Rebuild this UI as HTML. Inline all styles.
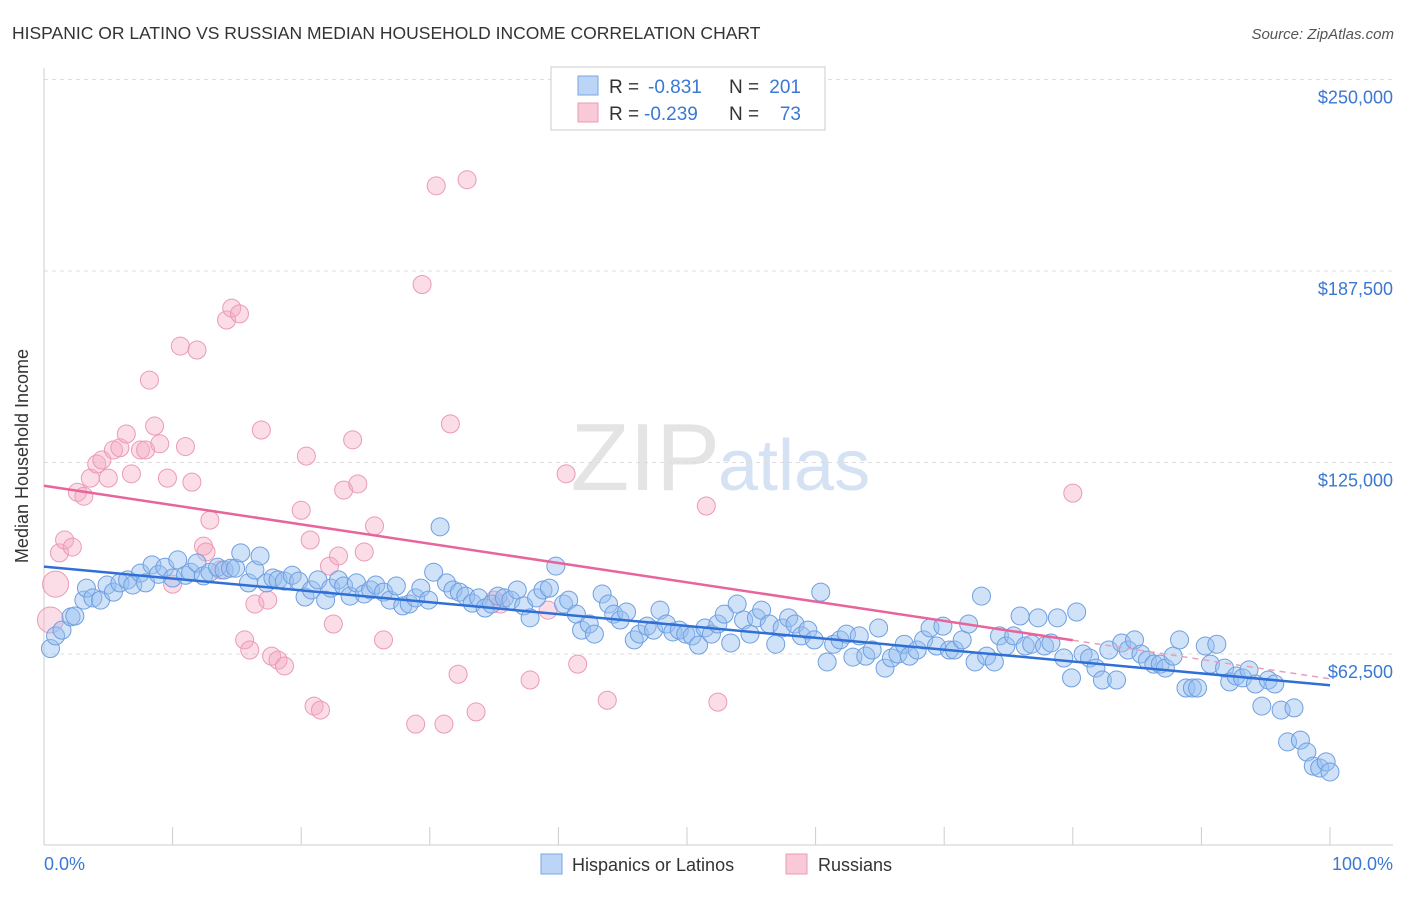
<!DOCTYPE html>
<html><head><meta charset="utf-8"><style>
body{margin:0;background:#fff;font-family:"Liberation Sans",sans-serif}
svg text{font-family:"Liberation Sans",sans-serif}
</style></head><body>
<svg id="chart" width="1406" height="892" xmlns="http://www.w3.org/2000/svg">
<text x="12" y="39" font-size="17.5" fill="#333">HISPANIC OR LATINO VS RUSSIAN MEDIAN HOUSEHOLD INCOME CORRELATION CHART</text>
<text x="1394" y="39" font-size="15" fill="#555" font-style="italic" text-anchor="end">Source: ZipAtlas.com</text>
<text x="720" y="490" font-size="96" font-family="Liberation Serif" fill="#e4e4e4" text-anchor="end">ZIP</text>
<text x="718" y="490" font-size="72" fill="#d4e2f4">atlas</text>
<g id="grid"></g>
<line x1="44" y1="68" x2="44" y2="845" stroke="#ccc"/>
<line x1="44" y1="845" x2="1393" y2="845" stroke="#ccc"/>
<text x="28" y="456" font-size="18" fill="#333" text-anchor="middle" transform="rotate(-90 28 456)">Median Household Income</text>
<text x="44" y="870" font-size="18" fill="#3a78d4">0.0%</text>
<text x="1393" y="870" font-size="18" fill="#3a78d4" text-anchor="end">100.0%</text>
<g id="pts"></g>
<g id="lines"></g>
<g>
<rect x="551" y="67" width="274" height="63" fill="#fff" stroke="#ccc"/>
<rect x="578" y="76" width="20" height="19" fill="#bcd4f5" stroke="#7aa6e2"/>
<rect x="578" y="103" width="20" height="19" fill="#f9c9d7" stroke="#eb9bb4"/>
<text x="609" y="93" font-size="19" fill="#333">R =</text>
<text x="648" y="93" font-size="19" fill="#3a78d4">-0.831</text>
<text x="729" y="93" font-size="19" fill="#333">N =</text>
<text x="801" y="93" font-size="19" fill="#3a78d4" text-anchor="end">201</text>
<text x="609" y="120" font-size="19" fill="#333">R =</text>
<text x="644" y="120" font-size="19" fill="#3a78d4">-0.239</text>
<text x="729" y="120" font-size="19" fill="#333">N =</text>
<text x="801" y="120" font-size="19" fill="#3a78d4" text-anchor="end">73</text>
</g>
<g>
<rect x="541" y="854" width="21" height="20" fill="#bcd4f5" stroke="#7aa6e2"/>
<text x="572" y="871" font-size="18" fill="#333">Hispanics or Latinos</text>
<rect x="786" y="854" width="21" height="20" fill="#f9c9d7" stroke="#eb9bb4"/>
<text x="818" y="871" font-size="18" fill="#333">Russians</text>
</g>
</svg>
<script>
const yTicks=[62500,125000,187500,250000];
const yTickLabels=["$62,500","$125,000","$187,500","$250,000"];
const xTicks=[10,20,30,40,50,60,70,80,90,100];
const blueX=[0.5,0.9,1.4,2.1,2.4,3.1,3.3,3.8,4.4,4.9,5.4,5.9,6.5,6.9,7.5,7.9,8.4,8.9,9.4,10,10.4,11,11.4,11.9,12.4,12.9,13.5,14,14.5,14.9,15.3,15.9,16.4,16.8,17.3,17.8,18.2,18.7,19.3,19.8,20.3,20.8,21.3,21.9,22.3,22.9,23.3,23.8,24.3,24.9,25.4,25.8,26.4,26.9,27.4,27.9,28.4,28.9,29.3,29.9,30.3,30.8,31.3,31.8,32.3,32.8,33.3,33.8,34.3,34.8,35.3,35.8,36.3,36.8,37.3,37.8,38.3,38.8,39.3,39.8,40.4,40.8,41.4,41.8,42.4,42.8,43.4,43.9,44.3,44.8,45.3,45.9,46.3,46.9,47.4,47.9,48.4,48.9,49.4,49.9,50.4,50.9,51.4,51.9,52.4,52.9,53.4,53.9,54.4,54.9,55.4,55.8,56.4,56.9,57.4,57.9,58.4,58.9,59.4,59.9,60.4,60.9,61.4,61.9,62.4,62.9,63.4,63.9,64.4,64.9,65.4,65.9,66.4,66.9,67.3,67.9,68.4,68.9,69.4,69.9,70.4,70.8,71.4,71.9,72.4,72.9,73.3,73.9,74.3,74.8,75.4,75.9,76.3,76.8,77.3,77.8,78.3,78.8,79.3,79.9,80.3,80.8,81.3,81.8,82.3,82.8,83.4,83.8,84.3,84.8,85.3,85.8,86.3,86.8,87.2,87.8,88.3,88.8,89.3,89.7,90.3,90.7,91.2,91.8,92.2,92.7,93.2,93.7,94.2,94.7,95.2,95.7,96.2,96.7,97.2,97.7,98.2,98.7,99.2,99.7,100];
const blueY=[64.3,68.4,70.3,74.6,74.9,80.1,84,80.8,80.1,85,82.7,85.7,86.7,85,88.9,85.7,91.6,88.5,90.8,87.3,93.2,88.2,89.2,92.2,88,89.2,90.8,89.9,90.5,90.5,95.5,85.7,89.9,94.5,85.7,87.3,86.7,86.3,88.2,86.3,81.1,83.4,86.7,80.1,84,86.7,84.7,81.4,85.7,82.1,83.4,85,82.7,80.1,84.7,78.2,78.8,80.8,84,80.1,89.2,104,85.7,83.4,82.7,81.4,79.1,80.8,77.5,78.8,81.4,80.8,80.1,83.4,78.2,74.3,80.8,83.4,84,91.2,78.8,80.1,75.5,70.3,72.3,69,82.1,78.8,75.5,73.6,76.2,67.1,69,71.6,70.3,76.8,72.3,69.7,70.3,69,68.4,65.4,71,69,72.3,75.5,66.1,78.8,73.6,69,74.3,76.8,72.3,65.7,71,74.3,72.3,68.4,70.3,67.1,82.7,59.9,65.7,67.1,69,61.5,68.4,61.8,63.8,71,57.9,61.2,62.5,65.7,61.8,63.8,67.1,71,65.1,71.6,63.8,63.8,67.1,72.3,59.9,81.4,61.8,59.9,68.4,65.1,68.4,74.9,65.1,65.7,74.3,65.1,66.1,74.3,61.2,54.7,76.2,62.5,61.2,57.9,54,63.8,54,66.1,63.8,67.1,62.5,60.5,59.2,59.2,57.9,61.8,67.1,51.4,51.4,51.4,65.1,59.2,65.7,57.9,53.4,55.3,54.7,57.3,52.7,45.5,54,52.7,44.2,33.8,44.9,34.4,30.5,25.9,25.3,27.3,24];
const pinkX=[0.9,0.5,1.2,1.6,2.2,2.6,3.1,3.6,4.1,4.5,5,5.4,5.9,6.4,6.8,7.5,7.9,8.2,8.6,9,9.6,10,10.6,11,11.5,11.9,12.4,12.9,12.6,13.7,14.2,14.6,15.2,15.6,16,16.4,16.9,17.4,17.7,18.2,18.7,20,20.4,20.7,21,21.5,22.2,22.5,22.9,23.3,24,24.4,24.9,25.7,26.4,28.9,29.4,30.5,32.9,31.1,31.6,32.2,33.6,35,35.5,37.8,39.2,40.6,41.5,43.8,51.5,52.4,80];
const pinkY=[85.3,73.6,95.5,99.7,97.4,115.3,114,119.9,124.5,125.8,119.9,129.1,129.8,134.3,121.3,129.1,129.1,151.9,136.9,131.1,119.9,85.3,163,130.2,118.6,161.7,97.7,106.2,95.8,89.9,171.5,175.4,173.5,67.1,63.8,78.8,135.6,80.1,61.8,60.5,58.6,109.4,127.1,99.7,45.5,44.2,91.2,72.3,94.5,116,132.4,118,95.8,104.3,67.1,39.6,183.1,215.3,217.3,39.6,137.6,55.9,43.6,80.1,78.8,54,76.8,121.3,59.2,47.4,110.8,46.8,115];
const blueTrend=[91.0,52.3];
const pinkTrend=[117.4,54.4];
const pinkSolidEnd=80;
const NS="http://www.w3.org/2000/svg";
function xs(p){return 44+p*12.86;}
function ys(v){return 845.5-v/62500*191.5;}
const grid=document.getElementById('grid');
yTicks.forEach((t,i)=>{
 const l=document.createElementNS(NS,'line');
 l.setAttribute('x1',44);l.setAttribute('x2',1393);l.setAttribute('y1',ys(t));l.setAttribute('y2',ys(t));
 l.setAttribute('stroke','#ddd');l.setAttribute('stroke-dasharray','4,4');
 
 
 grid.appendChild(l);
 const tx=document.createElementNS(NS,'text');
 tx.setAttribute('x',1393);tx.setAttribute('y',ys(t)+24);tx.setAttribute('text-anchor','end');
 tx.setAttribute('font-size','18');tx.setAttribute('fill','#3a78d4');tx.textContent=yTickLabels[i];
 
 
 grid.appendChild(tx);
});
xTicks.forEach(t=>{
 const l=document.createElementNS(NS,'line');
 l.setAttribute('x1',xs(t));l.setAttribute('x2',xs(t));l.setAttribute('y1',827);l.setAttribute('y2',845);
 l.setAttribute('stroke','#ccc');
 
 
 grid.appendChild(l);
});
const pts=document.getElementById('pts');
function dot(x,y,r,fill,stroke,name){
 const c=document.createElementNS(NS,'circle');
 c.setAttribute('cx',xs(x));c.setAttribute('cy',ys(y*1000));c.setAttribute('r',r);
 c.setAttribute('fill',fill);c.setAttribute('stroke',stroke);c.setAttribute('stroke-width','1');
 
 
 pts.appendChild(c);
}
pinkX.forEach((x,i)=>dot(x,pinkY[i],i<2?13:9,'rgba(246,170,195,0.4)','#ec9ab4','russian-point'));
blueX.forEach((x,i)=>dot(x,blueY[i],9,'rgba(150,190,240,0.45)','#6f9fe0','hispanic-point'));
const lines=document.getElementById('lines');
function seg(x1,v1,x2,v2,col,dash,name){
 const l=document.createElementNS(NS,'line');
 l.setAttribute('x1',xs(x1));l.setAttribute('y1',ys(v1*1000));l.setAttribute('x2',xs(x2));l.setAttribute('y2',ys(v2*1000));
 l.setAttribute('stroke',col);l.setAttribute('stroke-width',dash?1.5:2.5);
 if(dash)l.setAttribute('stroke-dasharray','6,5');
 
 
 lines.appendChild(l);
}
const pAt=p=>pinkTrend[0]+(pinkTrend[1]-pinkTrend[0])*p/100;
seg(0,blueTrend[0],100,blueTrend[1],'#2f6fd6',false,'hispanic-trend-line');
seg(0,pinkTrend[0],pinkSolidEnd,pAt(pinkSolidEnd),'#e8649a',false,'russian-trend-line');
seg(pinkSolidEnd,pAt(pinkSolidEnd),100,pinkTrend[1],'#e8a0b8',true,'russian-trend-extension');
</script>
</body></html>
